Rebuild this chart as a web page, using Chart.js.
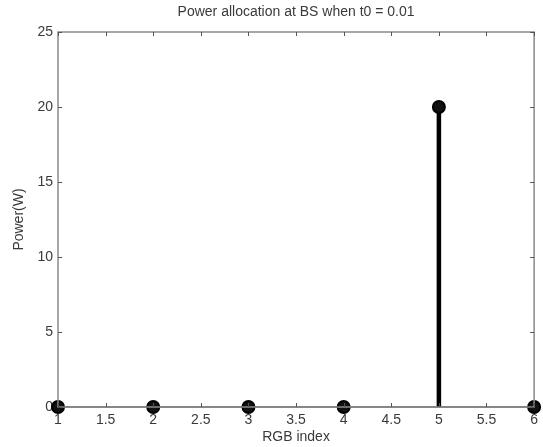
<!DOCTYPE html>
<html>
<head>
<meta charset="utf-8">
<script src="https://cdn.jsdelivr.net/npm/chart.js@4"></script>
<style>
    html, body { margin: 0; padding: 0; background: #fff; }
    #wrap { width: 543px; height: 447px; }
</style>
</head>
<body>
<div id="wrap"><canvas id="stemChart"></canvas></div>
<script>
// Data
const rgbIndex = [1, 2, 3, 4, 5, 6];
const power = [0, 0, 0, 0, 20, 0];
const xTickValues = [1, 1.5, 2, 2.5, 3, 3.5, 4, 4.5, 5, 5.5, 6];
const yTickValues = [0, 5, 10, 15, 20, 25];

const FONT = 'Liberation Sans, Arial, sans-serif';
const FONT_SIZE = 14;
const TEXT = '#3a3a3a';
const FRAME = '#8a8a8a';

// One dataset per stem, plus the baseline and the markers
const stemSets = rgbIndex.map((x, i) => ({
    type: 'line',
    data: [{ x: x, y: 0 }, { x: x, y: power[i] }],
    borderColor: '#000',
    borderWidth: 4.5,
    pointRadius: 0,
    clip: false,
    order: 2
}));

const baseline = {
    type: 'line',
    data: [{ x: rgbIndex[0], y: 0 }, { x: rgbIndex[rgbIndex.length - 1], y: 0 }],
    borderColor: '#555',
    borderWidth: 1.5,
    pointRadius: 0,
    clip: false,
    order: 3
};

const markers = {
    type: 'scatter',
    data: rgbIndex.map((x, i) => ({ x: x, y: power[i] })),
    backgroundColor: '#111',
    borderColor: '#000',
    borderWidth: 2,
    pointRadius: 6,
    clip: false,
    order: 1
};

// Matlab-like box with ticks pointing inwards
const boxPlugin = {
    id: 'box',
    afterDatasetsDraw(chart) {
        const { ctx, chartArea: a, scales } = chart;
        const len = 4;
        ctx.save();
        ctx.strokeStyle = FRAME;
        ctx.lineWidth = 1.5;
        ctx.strokeRect(a.left, a.top, a.right - a.left, a.bottom - a.top);
        ctx.lineWidth = 1;
        ctx.strokeStyle = '#555';
        ctx.beginPath();
        xTickValues.forEach(v => {
            const px = Math.round(scales.x.getPixelForValue(v)) + 0.5;
            ctx.moveTo(px, a.bottom); ctx.lineTo(px, a.bottom - len);
            ctx.moveTo(px, a.top); ctx.lineTo(px, a.top + len);
        });
        yTickValues.forEach(v => {
            const py = Math.round(scales.y.getPixelForValue(v)) + 0.5;
            ctx.moveTo(a.left, py); ctx.lineTo(a.left + len, py);
            ctx.moveTo(a.right, py); ctx.lineTo(a.right - len, py);
        });
        ctx.stroke();
        ctx.restore();
    }
};

const chart = new Chart(document.getElementById('stemChart'), {
    type: 'scatter',
    data: { datasets: [baseline, ...stemSets, markers] },
    options: {
        responsive: true,
        maintainAspectRatio: false,
        animation: false,
        layout: { padding: { left: 0, right: 7, top: 0, bottom: 0 } },
        plugins: {
            legend: { display: false },
            tooltip: { enabled: false },
            title: {
                display: true,
                fullSize: false,
                text: 'Power allocation at BS when t0 = 0.01',
                color: TEXT,
                font: { family: FONT, size: FONT_SIZE, weight: 'normal' },
                padding: { top: 3.5, bottom: 11.7 }
            }
        },
        scales: {
            x: {
                type: 'linear',
                min: 1,
                max: 6,
                afterBuildTicks: s => { s.ticks = xTickValues.map(v => ({ value: v })); },
                afterFit: s => { s.height = 40; },
                grid: { display: false, drawTicks: false },
                border: { display: false },
                ticks: {
                    color: TEXT,
                    padding: 5,
                    maxRotation: 0,
                    autoSkip: false,
                    font: { family: FONT, size: FONT_SIZE },
                    callback: v => String(v)
                },
                title: {
                    display: true,
                    text: 'RGB index',
                    color: TEXT,
                    font: { family: FONT, size: FONT_SIZE },
                    padding: { top: 0, bottom: 1.6 }
                }
            },
            y: {
                type: 'linear',
                min: 0,
                max: 25,
                afterBuildTicks: s => { s.ticks = yTickValues.map(v => ({ value: v })); },
                afterFit: s => { s.width = 58; },
                grid: { display: false, drawTicks: false },
                border: { display: false },
                ticks: {
                    color: TEXT,
                    padding: 5,
                    font: { family: FONT, size: FONT_SIZE },
                    callback: v => String(v)
                },
                title: {
                    display: true,
                    text: 'Power(W)',
                    color: TEXT,
                    font: { family: FONT, size: FONT_SIZE },
                    padding: { top: 10.6, bottom: 0 }
                }
            }
        }
    },
    plugins: [boxPlugin]
});
</script>
</body>
</html>
